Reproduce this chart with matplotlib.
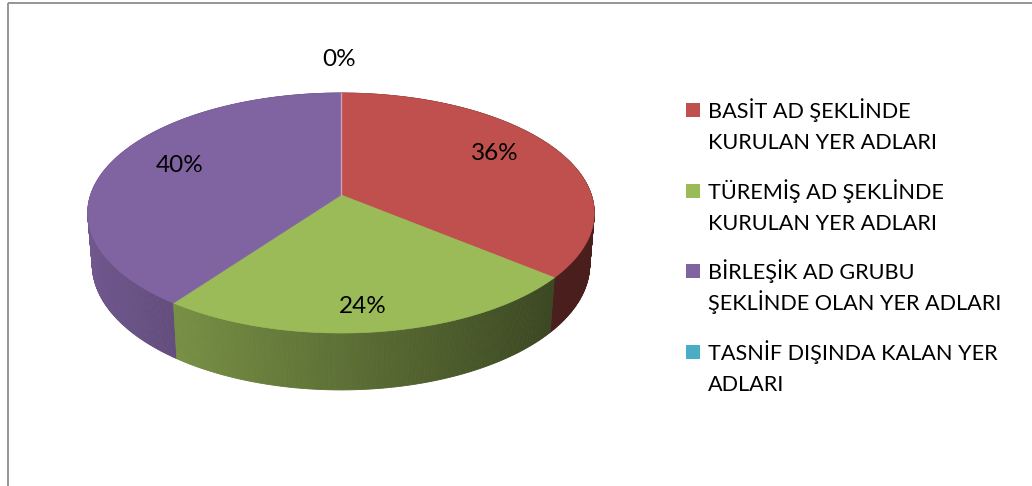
import numpy as np
import matplotlib
matplotlib.use("Agg")
import matplotlib.pyplot as plt
from matplotlib.patches import Polygon, Rectangle
from matplotlib.colors import to_rgb

# ---- data ----
categories = ["BASİT AD ŞEKLİNDE\nKURULAN YER ADLARI",
              "TÜREMİŞ AD ŞEKLİNDE\nKURULAN YER ADLARI",
              "BİRLEŞİK AD GRUBU\nŞEKLİNDE OLAN YER ADLARI",
              "TASNİF DIŞINDA KALAN YER\nADLARI"]
values = [36, 24, 40, 0]
pct_labels = ["36%", "24%", "40%", "0%"]
colors = ["#C0504D", "#9BBB59", "#8064A2", "#4BACC6"]

FONT = ["Lato", "DejaVu Sans"]

# ---- 3D perspective pie geometry (pixel space) ----
W, H = 1032, 486
CX, CY = 341, 195
SIN_A = 0.46
COS_A = np.sqrt(1 - SIN_A ** 2)
DIST = 5.92
FOC = 255 * DIST
FOC_X = FOC * 0.982
DEPTH = 0.229


def proj(theta_deg, r=1.0, Y=0.0):
    t = np.radians(theta_deg)
    X = r * np.sin(t)
    Z = r * np.cos(t)
    yv = Y * COS_A + Z * SIN_A
    d = DIST + Z * COS_A - Y * SIN_A
    return CX + FOC_X * X / d, CY - FOC * yv / d, d


def shade(color, theta):
    f = 0.60 + 0.29 * np.cos(np.radians(theta - 270))
    f = max(f, 0.38)
    return tuple(min(1, c * f) for c in to_rgb(color))


fig = plt.figure(figsize=(W / 100, H / 100), dpi=100)
ax = fig.add_axes([0, 0, 1, 1])
ax.set_xlim(0, W)
ax.set_ylim(H, 0)
ax.axis("off")

# chart border (left & top)
ax.plot([7.5, 7.5], [3.5, H], color="#8e8e8e", lw=1.3, solid_capstyle="butt")
ax.plot([7.5, W], [3.5, 3.5], color="#8e8e8e", lw=1.3, solid_capstyle="butt")

total = float(sum(values))
starts = np.cumsum([0] + values[:-1]) / total * 360
ends = np.cumsum(values) / total * 360

# side walls
quads = []
for v, s, e, col in zip(values, starts, ends, colors):
    if v == 0:
        continue
    n = max(2, int(np.ceil((e - s) / 0.5)))
    th = np.linspace(s, e, n + 1)
    for a, b in zip(th[:-1], th[1:]):
        x1, y1, d1 = proj(a)
        x2, y2, d2 = proj(b)
        x3, y3, _ = proj(b, Y=-DEPTH)
        x4, y4, _ = proj(a, Y=-DEPTH)
        c = shade(col, (a + b) / 2)
        quads.append(((d1 + d2) / 2, [(x1, y1), (x2, y2), (x3, y3), (x4, y4)], c))
quads.sort(key=lambda q: -q[0])
for _, pts, c in quads:
    ax.add_patch(Polygon(pts, closed=True, facecolor=c, edgecolor=c, lw=0.6, zorder=2))

# top faces
cx0, cy0, _ = proj(0, r=0)
for v, s, e, col in zip(values, starts, ends, colors):
    if v == 0:
        continue
    th = np.linspace(s, e, 200)
    pts = [(cx0, cy0)] + [proj(t)[:2] for t in th]
    ax.add_patch(Polygon(pts, closed=True, facecolor=col, edgecolor=col, lw=0.5, zorder=3))

# zero slice edge line
for v, s in zip(values, starts):
    if v == 0:
        xe, ye, _ = proj(s % 360)
        ax.plot([cx0, xe], [cy0, ye], color="#d7a3ad", lw=0.9, zorder=4)

# data labels
LAB_RX, LAB_RY, LAB_CY = 170, 108, 197
for v, s, e, lab in zip(values, starts, ends, pct_labels):
    m = np.radians((s + e) / 2)
    if v == 0:
        lx = CX - 2
        ly = LAB_CY - 139
    else:
        lx = CX + LAB_RX * np.sin(m)
        ly = LAB_CY - LAB_RY * np.cos(m)
    ax.text(lx, ly + 8.5, lab, ha="center", va="baseline", fontsize=17.5,
            family=FONT, color="black", zorder=5)

# legend
LEG_X, LEG_Y0, LEG_STEP, LINE_STEP = 686, 118, 80.7, 31
for i, (cat, col) in enumerate(zip(categories, colors)):
    base = LEG_Y0 + i * LEG_STEP
    ax.add_patch(Rectangle((LEG_X, base - 15), 14, 14, facecolor=col, edgecolor="none", zorder=5))
    for j, line in enumerate(cat.split("\n")):
        ax.text(LEG_X + 22, base + j * LINE_STEP, line, ha="left", va="baseline",
                fontsize=15.6, family=FONT, color="black", zorder=5)

fig.savefig("out.png", dpi=100)
